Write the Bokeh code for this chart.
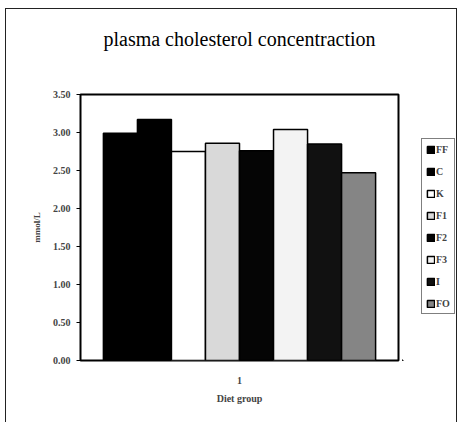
from bokeh.plotting import figure
from bokeh.layouts import row
from bokeh.models import (ColumnDataSource, Range1d, FixedTicker, NumeralTickFormatter,
                          Legend, LegendItem, Title)
from bokeh.embed import file_html
from bokeh.resources import INLINE

# ---- data ----
groups = ["1"]
series = ["FF", "C", "K", "F1", "F2", "F3", "I", "FO"]
values = [2.99, 3.17, 2.75, 2.86, 2.76, 3.04, 2.85, 2.47]
fills = ["#000000", "#000000", "#ffffff", "#d9d9d9", "#050505", "#f3f3f3", "#111111", "#858585"]
y_ticks = [0.0, 0.5, 1.0, 1.5, 2.0, 2.5, 3.0, 3.5]
title_text = "plasma cholesterol concentraction"

SERIF = "Liberation Serif"

p = figure(width=396, height=413, output_backend="svg", toolbar_location=None,
           x_range=Range1d(0.5, 1.5), y_range=Range1d(0, 3.5), title=None,
           min_border_left=74, min_border_right=4, min_border_top=85, min_border_bottom=62)

# spacer between title and plot area, then the title itself
p.add_layout(Title(text=" ", text_font_size="1px", standoff=38), "above")
p.add_layout(Title(text=title_text, text_font=SERIF, text_color="black",
                   text_font_style="normal", text_font_size="20px",
                   align="center", standoff=8), "above")

# legend holder figure (bars drawn far off-range so only the legend is seen)
p2 = figure(width=54, height=413, output_backend="svg", toolbar_location=None,
            x_range=Range1d(100, 101), y_range=Range1d(100, 101),
            x_axis_type=None, y_axis_type=None,
            min_border_left=0, min_border_right=0, min_border_top=0, min_border_bottom=0)
p2.outline_line_color = None
p2.xgrid.visible = False
p2.ygrid.visible = False

bw = 0.107
items = []
n = len(series)
for i, (s, v, c) in enumerate(zip(series, values, fills)):
    x = 1 + (i - (n - 1) / 2) * bw
    src = ColumnDataSource(dict(x=[x], top=[v]))
    p.vbar(x="x", top="top", width=bw, bottom=0, source=src,
           fill_color=c, line_color="black", line_width=1.5)
    r2 = p2.vbar(x="x", top="top", width=bw, bottom=0, source=src,
                 fill_color=c, line_color="black", line_width=1.5)
    items.append(LegendItem(label=s, renderers=[r2]))

legend = Legend(items=items, location=(19, 46))
legend.label_text_font = SERIF
legend.label_text_font_style = "bold"
legend.label_text_font_size = "10px"
legend.glyph_width = 9
legend.glyph_height = 9
legend.label_height = 12
legend.label_standoff = 1
legend.label_width = 14
legend.spacing = 10
legend.padding = 4
legend.margin = 0
legend.border_line_color = "black"
legend.border_line_width = 1
legend.background_fill_color = "white"
p2.add_layout(legend, "center")

p.xgrid.visible = False
p.ygrid.visible = False
p.outline_line_color = "black"
p.outline_line_width = 2

ya = p.yaxis[0]
ya.ticker = FixedTicker(ticks=y_ticks)
ya.formatter = NumeralTickFormatter(format="0.00")
ya.axis_line_color = None
ya.major_tick_in = 0
ya.major_tick_out = 4
ya.minor_tick_line_color = None
ya.major_label_text_font = SERIF
ya.major_label_text_font_style = "bold"
ya.major_label_text_font_size = "10px"
ya.major_label_standoff = 6
ya.axis_label = "mmol/L"
ya.axis_label_text_font = SERIF
ya.axis_label_text_font_style = "bold"
ya.axis_label_text_font_size = "9px"
ya.axis_label_standoff = 8

xa = p.xaxis[0]
xa.ticker = FixedTicker(ticks=[1])
xa.axis_line_color = None
xa.major_tick_in = 0
xa.major_tick_out = 0
xa.minor_tick_line_color = None
xa.major_label_text_font = SERIF
xa.major_label_text_font_style = "bold"
xa.major_label_text_font_size = "10px"
xa.major_label_standoff = 16
xa.axis_label = "Diet group"
xa.axis_label_text_font = SERIF
xa.axis_label_text_font_style = "bold"
xa.axis_label_text_font_size = "10px"
xa.axis_label_standoff = 6

layout = row(p, p2, margin=(8, 0, 0, 5),
             styles={"border-left": "1px solid #222", "border-top": "1px solid #222",
                     "border-right": "1px solid #222"})

open("out.html", "w").write(file_html(layout, INLINE))
